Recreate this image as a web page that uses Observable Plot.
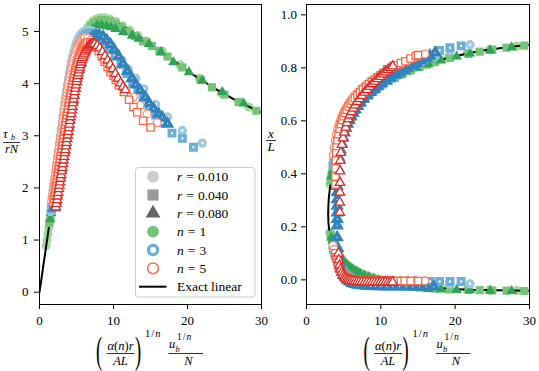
<!DOCTYPE html>
<html><head><meta charset="utf-8">
<script src="https://cdn.jsdelivr.net/npm/d3@7"></script>
<script src="https://cdn.jsdelivr.net/npm/@observablehq/plot@0.6"></script>
<style>
html,body{margin:0;padding:0;background:#fff;}
#wrap{position:relative;width:539px;height:371px;overflow:hidden;font-family:"Liberation Serif","DejaVu Serif",serif;}
#wrap > svg{position:absolute;top:0;}
#wrap svg text{font-family:"Liberation Serif","DejaVu Serif",serif !important;}
</style></head><body><div id="wrap"></div>
<script>
// ---------------- data ----------------
const xTicks = [0, 10, 20, 30];
const tauTicks = [0, 1, 2, 3, 4, 5];
const xLTicks = [0, 0.2, 0.4, 0.6, 0.8, 1.0];
const rValues = ["0.010", "0.040", "0.080"];
const nValues = [1, 3, 5];

// exact linear solution
const exact_tau = [[0,0],[1,0.98],[2,1.95],[3,2.9],[3.5,3.35],[4,3.78],[4.5,4.15],[5,4.48],[5.5,4.75],[6,4.95],[6.5,5.08],[7,5.17],[7.5,5.23],[8,5.26],[8.5,5.27],[9,5.26],[10,5.21],[11,5.13],[12,5.04],[13,4.95],[14,4.86],[15,4.76],[16,4.66],[17,4.56],[18,4.45],[19,4.35],[20,4.24],[22,4.06],[24,3.88],[26,3.72],[28,3.58],[30,3.45]];
const exact_xL_up = [[2.92,0.25],[2.95,0.285],[3.02,0.315],[3.15,0.345],[3.3,0.37],[3.45,0.395],[3.6,0.418],[3.8,0.445],[4.05,0.478],[4.5,0.518],[5.0,0.56],[5.5,0.592],[6.2,0.627],[7,0.66],[8,0.69],[9,0.715],[10,0.736],[11,0.753],[12,0.768],[13,0.781],[14.5,0.799],[16,0.813],[18,0.83],[20,0.844],[22,0.856],[24,0.866],[26,0.874],[28,0.881],[30,0.887]];
const exact_xL_low = [[2.92,0.25],[2.95,0.215],[3.05,0.19],[3.2,0.172],[3.4,0.155],[3.6,0.14],[3.9,0.117],[4.2,0.098],[4.7,0.075],[5.27,0.058],[5.94,0.044],[6.85,0.029],[7.7,0.019],[8.8,0.008],[9.5,0.002],[10.3,-0.004],[11.2,-0.01],[12.2,-0.016],[13.3,-0.021],[14.5,-0.025],[15.8,-0.028],[17.2,-0.031],[18.7,-0.033],[20.3,-0.035],[22,-0.037],[23.8,-0.038],[25.7,-0.039],[27.7,-0.04],[30,-0.041]];

// left panel: [abscissa, tau_b/(rN)]
const tau_n1_r010 = [[0.9,0.89],[1.02,1.0],[1.14,1.12],[1.26,1.24],[1.38,1.36],[1.5,1.47],[1.65,1.61],[1.8,1.76],[1.95,1.9],[2.1,2.05],[2.25,2.19],[2.4,2.33],[2.55,2.48],[2.7,2.62],[2.85,2.76],[3.0,2.9],[3.15,3.04],[3.3,3.17],[3.45,3.31],[3.6,3.44],[3.75,3.57],[3.9,3.7],[4.05,3.82],[4.2,3.93],[4.36,4.05],[4.53,4.17],[4.7,4.29],[4.88,4.4],[5.07,4.52],[5.27,4.63],[5.48,4.74],[5.7,4.84],[5.94,4.93],[6.2,5.0],[6.5,5.08],[6.85,5.15],[7.25,5.2],[7.7,5.24],[8.2,5.26],[8.8,5.26],[9.5,5.24],[10.3,5.19],[11.2,5.11],[12.2,5.02],[13.3,4.92],[14.5,4.81],[16.6,4.62],[19.0,4.36],[21.6,4.1],[24.6,3.82],[28.3,3.55]];
const tau_n1_r040 = [[1.35,1.33],[1.48,1.45],[1.62,1.58],[1.76,1.71],[1.9,1.84],[2.05,1.98],[2.2,2.12],[2.35,2.26],[2.5,2.4],[2.65,2.54],[2.8,2.68],[2.95,2.82],[3.1,2.96],[3.25,3.09],[3.4,3.22],[3.55,3.35],[3.7,3.48],[3.85,3.6],[4.0,3.72],[4.16,3.84],[4.33,3.96],[4.5,4.08],[4.68,4.2],[4.87,4.32],[5.07,4.44],[5.28,4.55],[5.5,4.66],[5.74,4.76],[6.0,4.86],[6.3,4.95],[6.62,5.03],[6.98,5.1],[7.38,5.16],[7.82,5.2],[8.3,5.22],[8.85,5.22],[9.5,5.2],[10.2,5.15],[11.0,5.08],[11.9,5.0],[12.9,4.91],[14.0,4.81],[15.2,4.72],[16.2,4.63],[17.3,4.52],[19.3,4.31],[21.8,4.07],[23.3,3.93],[25.0,3.79],[26.9,3.65],[29.3,3.48]];
const tau_n1_r080 = [[1.45,1.4],[1.58,1.52],[1.72,1.65],[1.86,1.78],[2.0,1.91],[2.15,2.04],[2.3,2.17],[2.45,2.3],[2.6,2.43],[2.75,2.56],[2.9,2.69],[3.05,2.82],[3.2,2.95],[3.35,3.08],[3.5,3.2],[3.65,3.32],[3.8,3.44],[3.96,3.56],[4.12,3.68],[4.29,3.8],[4.46,3.92],[4.64,4.04],[4.83,4.16],[5.03,4.28],[5.24,4.4],[5.46,4.51],[5.7,4.62],[5.95,4.72],[6.22,4.81],[6.52,4.9],[6.85,4.98],[7.2,5.05],[7.8,5.12],[8.4,5.12],[9.05,5.1],[9.65,5.08],[10.27,5.05],[11.3,4.99],[12.5,4.92],[13.4,4.86],[14.8,4.76],[16.4,4.6],[18.1,4.41],[20.2,4.22],[22.0,4.06],[24.7,3.84],[27.6,3.62]];
const tau_n3_r010 = [[1.5,1.55],[1.62,1.68],[1.74,1.81],[1.86,1.94],[1.98,2.07],[2.1,2.2],[2.22,2.33],[2.34,2.47],[2.46,2.6],[2.58,2.73],[2.7,2.86],[2.82,2.99],[2.94,3.12],[3.06,3.25],[3.18,3.38],[3.3,3.51],[3.42,3.63],[3.54,3.75],[3.66,3.87],[3.78,3.98],[3.9,4.09],[4.03,4.2],[4.17,4.31],[4.32,4.42],[4.48,4.52],[4.65,4.62],[4.83,4.71],[5.02,4.79],[5.22,4.86],[5.44,4.92],[5.67,4.96],[5.92,4.99],[6.2,5.01],[6.5,5.02],[6.85,5.02],[7.2,5.0],[7.6,4.97],[8.1,4.92],[8.8,4.84],[9.5,4.74],[10.3,4.6],[11.1,4.45],[12.0,4.28],[13.0,4.1],[14.1,3.9],[15.7,3.6],[17.3,3.36],[19.3,3.1],[22.0,2.86]];
const tau_n3_r040 = [[1.65,1.6],[1.78,1.73],[1.91,1.86],[2.04,1.99],[2.17,2.12],[2.3,2.25],[2.43,2.38],[2.56,2.51],[2.69,2.64],[2.82,2.77],[2.95,2.9],[3.08,3.03],[3.21,3.16],[3.34,3.29],[3.47,3.42],[3.6,3.54],[3.73,3.66],[3.86,3.78],[4.0,3.9],[4.15,4.02],[4.3,4.14],[4.46,4.26],[4.63,4.38],[4.81,4.49],[5.0,4.59],[5.2,4.68],[5.42,4.76],[5.66,4.83],[5.92,4.89],[6.2,4.93],[6.5,4.96],[6.85,4.97],[7.25,4.96],[7.7,4.93],[8.2,4.88],[8.8,4.8],[9.5,4.68],[10.2,4.54],[11.0,4.37],[11.8,4.19],[12.6,4.02],[13.3,3.88],[14.0,3.73],[14.8,3.56],[15.7,3.4],[16.6,3.25],[17.9,3.05],[19.3,2.95],[20.8,2.78]];
const tau_n3_r080 = [[2.0,1.62],[2.14,1.75],[2.28,1.88],[2.42,2.0],[2.56,2.12],[2.7,2.24],[2.84,2.36],[2.98,2.48],[3.12,2.6],[3.26,2.72],[3.4,2.84],[3.54,2.96],[3.68,3.08],[3.82,3.2],[3.96,3.32],[4.1,3.44],[4.25,3.56],[4.4,3.68],[4.56,3.8],[4.72,3.92],[4.9,4.04],[5.08,4.16],[5.28,4.28],[5.5,4.4],[5.73,4.51],[5.98,4.61],[6.25,4.7],[6.55,4.78],[6.88,4.85],[7.25,4.9],[7.65,4.93],[8.1,4.93],[8.6,4.9],[9.1,4.83],[9.6,4.75],[10.1,4.65],[10.7,4.52],[11.3,4.38],[11.9,4.24],[12.5,4.1],[13.0,3.98],[13.6,3.87],[14.3,3.74],[14.8,3.62],[15.4,3.52],[16.1,3.42],[16.6,3.35],[17.3,3.23]];
const tau_n5_r010 = [[1.65,1.75],[1.72,1.82],[1.78,1.88],[1.85,1.95],[1.91,2.01],[1.98,2.08],[2.04,2.14],[2.11,2.21],[2.17,2.27],[2.24,2.34],[2.3,2.4],[2.37,2.47],[2.43,2.53],[2.5,2.6],[2.56,2.66],[2.63,2.73],[2.69,2.79],[2.76,2.86],[2.82,2.92],[2.89,2.99],[2.95,3.05],[3.02,3.12],[3.08,3.18],[3.15,3.25],[3.21,3.31],[3.28,3.38],[3.34,3.44],[3.41,3.51],[3.47,3.57],[3.54,3.64],[3.6,3.7],[3.67,3.76],[3.73,3.82],[3.8,3.88],[3.87,3.94],[3.94,4.0],[4.02,4.06],[4.1,4.12],[4.18,4.18],[4.26,4.24],[4.35,4.3],[4.44,4.36],[4.53,4.41],[4.62,4.47],[4.72,4.52],[4.82,4.57],[4.92,4.62],[5.02,4.67],[5.13,4.71],[5.24,4.75],[5.36,4.78],[5.48,4.81],[5.6,4.83],[5.73,4.85],[5.86,4.87],[6.0,4.88],[6.15,4.88],[6.5,4.87],[6.9,4.83],[7.4,4.76],[8.0,4.65],[8.6,4.52],[9.2,4.39],[9.8,4.25],[10.4,4.11],[11.0,3.99],[11.7,3.87],[12.7,3.74],[13.6,3.58],[14.55,3.42],[15.9,3.25]];
const tau_n5_r040 = [[1.9,1.72],[1.97,1.79],[2.04,1.85],[2.11,1.91],[2.18,1.98],[2.25,2.04],[2.32,2.11],[2.39,2.17],[2.46,2.24],[2.53,2.3],[2.6,2.37],[2.67,2.43],[2.74,2.5],[2.81,2.56],[2.88,2.62],[2.95,2.69],[3.02,2.75],[3.09,2.82],[3.16,2.88],[3.23,2.95],[3.3,3.01],[3.37,3.08],[3.44,3.14],[3.51,3.21],[3.58,3.27],[3.65,3.34],[3.72,3.4],[3.79,3.46],[3.86,3.52],[3.93,3.58],[4.0,3.64],[4.07,3.7],[4.15,3.76],[4.22,3.82],[4.3,3.88],[4.38,3.94],[4.46,4.0],[4.54,4.06],[4.63,4.12],[4.72,4.18],[4.81,4.24],[4.9,4.3],[5.0,4.35],[5.1,4.4],[5.2,4.45],[5.31,4.5],[5.42,4.55],[5.54,4.6],[5.66,4.64],[5.79,4.68],[5.92,4.71],[6.06,4.74],[6.2,4.76],[6.35,4.78],[6.5,4.79],[6.85,4.79],[7.2,4.76],[7.6,4.7],[8.0,4.62],[8.4,4.52],[8.8,4.42],[9.2,4.32],[9.6,4.22],[10.0,4.15],[10.3,4.07],[10.7,3.97],[11.4,3.84],[12.1,3.69],[12.7,3.55],[13.2,3.45],[14.0,3.29],[15.0,3.16]];
const tau_n5_r080 = [[2.2,1.63],[2.28,1.7],[2.36,1.77],[2.44,1.84],[2.52,1.91],[2.6,1.98],[2.68,2.05],[2.76,2.11],[2.84,2.18],[2.92,2.25],[3.0,2.32],[3.08,2.39],[3.16,2.46],[3.24,2.53],[3.32,2.6],[3.4,2.67],[3.48,2.73],[3.56,2.8],[3.64,2.87],[3.72,2.94],[3.8,3.01],[3.88,3.08],[3.96,3.15],[4.04,3.22],[4.12,3.29],[4.2,3.36],[4.28,3.42],[4.36,3.49],[4.44,3.56],[4.52,3.63],[4.6,3.7],[4.68,3.77],[4.76,3.84],[4.84,3.91],[4.92,3.97],[5.0,4.04],[5.08,4.09],[5.16,4.15],[5.25,4.2],[5.34,4.26],[5.43,4.31],[5.52,4.36],[5.62,4.41],[5.72,4.46],[5.82,4.5],[5.93,4.54],[6.04,4.58],[6.16,4.62],[6.28,4.65],[6.41,4.68],[6.54,4.7],[6.68,4.72],[6.82,4.74],[6.97,4.75],[7.12,4.76],[7.28,4.77],[7.45,4.76],[7.8,4.73],[8.15,4.68],[8.5,4.61],[8.85,4.53],[9.2,4.45],[9.55,4.37],[9.9,4.28],[10.25,4.19],[10.6,4.1],[10.95,4.01],[11.3,3.94],[11.6,3.88]];

// right panel: [abscissa, x/L], upper and lower branches
const up_n1_r010 = [[3.15,0.36],[3.3,0.385],[3.45,0.405],[3.6,0.425],[3.75,0.445],[3.9,0.463],[4.05,0.48],[4.2,0.495],[4.36,0.51],[4.53,0.525],[4.7,0.538],[4.88,0.551],[5.07,0.564],[5.27,0.577],[5.48,0.59],[5.7,0.602],[5.94,0.614],[6.2,0.627],[6.5,0.64],[6.85,0.654],[7.25,0.668],[7.7,0.682],[8.2,0.696],[8.8,0.711],[9.5,0.726],[10.3,0.741],[11.2,0.756],[12.2,0.77],[13.3,0.785],[14.5,0.799],[16.6,0.818],[19.0,0.838],[21.6,0.854],[24.6,0.868],[28.3,0.882]];
const low_n1_r010 = [[3.15,0.18],[3.3,0.165],[3.45,0.152],[3.6,0.14],[3.75,0.128],[3.9,0.117],[4.05,0.107],[4.2,0.098],[4.36,0.09],[4.53,0.082],[4.7,0.075],[4.88,0.069],[5.07,0.063],[5.27,0.058],[5.48,0.053],[5.7,0.048],[5.94,0.044],[6.2,0.039],[6.5,0.034],[6.85,0.029],[7.25,0.024],[7.7,0.019],[8.2,0.014],[8.8,0.008],[9.5,0.002],[10.3,-0.004],[11.2,-0.01],[12.2,-0.016],[13.3,-0.021],[14.5,-0.025],[16.6,-0.03],[19.0,-0.034],[21.6,-0.037],[24.6,-0.039],[28.3,-0.041]];
const up_n1_r040 = [[3.25,0.375],[3.4,0.395],[3.55,0.415],[3.7,0.435],[3.85,0.455],[4.0,0.472],[4.16,0.488],[4.33,0.504],[4.5,0.519],[4.68,0.534],[4.87,0.548],[5.07,0.562],[5.28,0.576],[5.5,0.589],[5.74,0.602],[6.0,0.615],[6.3,0.63],[6.62,0.644],[6.98,0.658],[7.38,0.671],[7.82,0.684],[8.3,0.697],[8.85,0.71],[9.5,0.724],[10.2,0.737],[11.0,0.75],[11.9,0.763],[12.9,0.777],[14.0,0.79],[15.2,0.803],[16.2,0.812],[17.3,0.822],[19.3,0.838],[21.8,0.853],[23.3,0.861],[25.0,0.869],[26.9,0.876],[29.3,0.884]];
const low_n1_r040 = [[3.25,0.17],[3.4,0.156],[3.55,0.144],[3.7,0.132],[3.85,0.12],[4.0,0.11],[4.16,0.1],[4.33,0.091],[4.5,0.083],[4.68,0.076],[4.87,0.069],[5.07,0.063],[5.28,0.057],[5.5,0.052],[5.74,0.047],[6.0,0.042],[6.3,0.037],[6.62,0.032],[6.98,0.027],[7.38,0.022],[7.82,0.017],[8.3,0.012],[8.85,0.007],[9.5,0.001],[10.2,-0.005],[11.0,-0.011],[11.9,-0.016],[12.9,-0.021],[14.0,-0.025],[15.2,-0.029],[16.2,-0.031],[17.3,-0.033],[19.3,-0.036],[21.8,-0.038],[23.3,-0.039],[25.0,-0.04],[26.9,-0.041],[29.3,-0.042]];
const up_n1_r080 = [[3.35,0.39],[3.5,0.41],[3.65,0.43],[3.8,0.448],[3.96,0.466],[4.12,0.483],[4.29,0.5],[4.46,0.515],[4.64,0.53],[4.83,0.545],[5.03,0.559],[5.24,0.573],[5.46,0.586],[5.7,0.599],[5.95,0.612],[6.22,0.625],[6.52,0.638],[6.85,0.652],[7.2,0.665],[7.8,0.683],[8.4,0.699],[9.05,0.714],[9.65,0.727],[10.27,0.739],[11.3,0.756],[12.5,0.772],[13.4,0.786],[14.8,0.8],[16.4,0.814],[18.1,0.828],[20.2,0.843],[22.0,0.854],[24.7,0.866],[27.6,0.877]];
const low_n1_r080 = [[3.35,0.16],[3.5,0.148],[3.65,0.136],[3.8,0.125],[3.96,0.114],[4.12,0.104],[4.29,0.095],[4.46,0.087],[4.64,0.079],[4.83,0.072],[5.03,0.065],[5.24,0.059],[5.46,0.053],[5.7,0.048],[5.95,0.043],[6.22,0.038],[6.52,0.033],[6.85,0.028],[7.2,0.023],[7.8,0.016],[8.4,0.01],[9.05,0.004],[9.65,-0.002],[10.27,-0.007],[11.3,-0.014],[12.5,-0.021],[13.4,-0.025],[14.8,-0.03],[16.4,-0.034],[18.1,-0.036],[20.2,-0.038],[22.0,-0.039],[24.7,-0.041],[27.6,-0.042]];
const up_n3_r010 = [[3.54,0.44],[3.66,0.46],[3.78,0.478],[3.9,0.494],[4.03,0.51],[4.17,0.525],[4.32,0.54],[4.48,0.554],[4.65,0.567],[4.83,0.58],[5.02,0.592],[5.22,0.604],[5.44,0.615],[5.67,0.626],[5.92,0.637],[6.2,0.648],[6.5,0.66],[6.85,0.672],[7.2,0.683],[7.6,0.695],[8.1,0.708],[8.8,0.724],[9.5,0.738],[10.3,0.752],[11.1,0.765],[12.0,0.778],[13.0,0.792],[14.1,0.806],[15.7,0.825],[17.3,0.845],[19.3,0.866],[22.0,0.887]];
const low_n3_r010 = [[3.54,0.12],[3.66,0.108],[3.78,0.097],[3.9,0.087],[4.03,0.077],[4.17,0.067],[4.32,0.058],[4.48,0.049],[4.65,0.041],[4.83,0.033],[5.02,0.026],[5.22,0.02],[5.44,0.014],[5.67,0.009],[5.92,0.004],[6.2,0.0],[6.5,-0.003],[6.85,-0.006],[7.2,-0.008],[7.6,-0.01],[8.1,-0.012],[8.8,-0.013],[9.5,-0.014],[10.3,-0.015],[11.1,-0.015],[12.0,-0.015],[13.0,-0.015],[14.1,-0.015],[15.7,-0.015],[17.3,-0.015],[19.3,-0.015],[22.0,-0.015]];
const up_n3_r040 = [[3.6,0.43],[3.73,0.452],[3.86,0.472],[4.0,0.49],[4.15,0.507],[4.3,0.522],[4.46,0.537],[4.63,0.551],[4.81,0.564],[5.0,0.577],[5.2,0.589],[5.42,0.601],[5.66,0.613],[5.92,0.625],[6.2,0.637],[6.5,0.649],[6.85,0.661],[7.25,0.674],[7.7,0.687],[8.2,0.7],[8.8,0.715],[9.5,0.73],[10.2,0.744],[11.0,0.758],[11.8,0.771],[12.6,0.784],[13.3,0.795],[14.0,0.806],[14.8,0.818],[15.7,0.83],[16.6,0.842],[17.9,0.866],[19.3,0.876],[20.8,0.883]];
const low_n3_r040 = [[3.6,0.115],[3.73,0.103],[3.86,0.092],[4.0,0.082],[4.15,0.072],[4.3,0.062],[4.46,0.053],[4.63,0.044],[4.81,0.036],[5.0,0.029],[5.2,0.022],[5.42,0.016],[5.66,0.011],[5.92,0.006],[6.2,0.002],[6.5,-0.001],[6.85,-0.004],[7.25,-0.006],[7.7,-0.008],[8.2,-0.009],[8.8,-0.009],[9.5,-0.009],[10.2,-0.009],[11.0,-0.008],[11.8,-0.008],[12.6,-0.008],[13.3,-0.007],[14.0,-0.007],[14.8,-0.007],[15.7,-0.007],[16.6,-0.006],[17.9,-0.006],[19.3,-0.006],[20.8,-0.006]];
const up_n3_r080 = [[4.13,0.16],[4.13,0.205],[4.13,0.229],[4.13,0.254],[4.13,0.279],[4.13,0.304],[4.13,0.33],[4.13,0.354],[4.13,0.38],[4.25,0.42],[4.4,0.46],[4.56,0.49],[4.72,0.515],[4.9,0.537],[5.08,0.556],[5.28,0.573],[5.5,0.589],[5.73,0.603],[5.98,0.617],[6.25,0.63],[6.55,0.643],[6.88,0.656],[7.25,0.669],[7.65,0.682],[8.1,0.695],[8.6,0.708],[9.1,0.72],[9.6,0.731],[10.1,0.741],[10.7,0.752],[11.3,0.763],[11.9,0.773],[12.5,0.783],[13.0,0.791],[13.6,0.8],[14.3,0.81],[14.8,0.818],[15.4,0.827],[16.1,0.838],[16.6,0.846],[17.3,0.857]];
const low_n3_r080 = [[4.2,0.12],[4.3,0.09],[4.45,0.065],[4.6,0.045],[4.8,0.03],[5.0,0.018],[5.25,0.008],[5.5,0.0],[5.8,-0.007],[6.1,-0.012],[6.5,-0.016],[6.9,-0.019],[7.4,-0.021],[8.0,-0.023],[8.6,-0.024],[9.3,-0.025],[10.0,-0.025],[10.8,-0.026],[11.6,-0.026],[12.5,-0.026],[13.4,-0.026],[14.3,-0.026],[15.2,-0.026],[16.1,-0.026],[17.1,-0.026]];
const up_n5_r010 = [[3.6,0.47],[3.73,0.5],[3.87,0.525],[4.02,0.548],[4.18,0.568],[4.35,0.585],[4.53,0.6],[4.72,0.614],[4.92,0.627],[5.13,0.639],[5.36,0.651],[5.6,0.662],[5.86,0.673],[6.15,0.684],[6.5,0.696],[6.9,0.708],[7.4,0.722],[8.0,0.737],[8.6,0.75],[9.2,0.762],[9.8,0.773],[10.4,0.783],[11.0,0.792],[11.7,0.802],[12.7,0.815],[13.6,0.827],[14.55,0.84],[15.9,0.852]];
const low_n5_r010 = [[3.6,0.13],[3.73,0.115],[3.87,0.1],[4.02,0.085],[4.18,0.07],[4.35,0.056],[4.53,0.044],[4.72,0.034],[4.92,0.026],[5.13,0.019],[5.36,0.013],[5.6,0.009],[5.86,0.006],[6.15,0.003],[6.5,0.001],[6.9,0.0],[7.4,-0.001],[8.0,-0.002],[8.6,-0.002],[9.2,-0.002],[9.8,-0.003],[10.4,-0.003],[11.0,-0.003],[11.7,-0.003],[12.7,-0.003],[13.6,-0.003],[14.55,-0.003],[15.9,-0.003]];
const up_n5_r040 = [[3.9,0.36],[3.9,0.39],[3.9,0.42],[3.95,0.45],[4.0,0.48],[4.07,0.505],[4.15,0.527],[4.3,0.55],[4.46,0.57],[4.63,0.588],[4.81,0.603],[5.0,0.617],[5.2,0.63],[5.42,0.642],[5.66,0.654],[5.92,0.665],[6.2,0.676],[6.5,0.686],[6.85,0.697],[7.2,0.707],[7.6,0.718],[8.0,0.728],[8.4,0.738],[8.8,0.747],[9.2,0.756],[9.6,0.764],[10.0,0.772],[10.3,0.78],[10.86,0.795],[11.4,0.8],[12.1,0.81],[12.7,0.818],[13.3,0.825],[14.0,0.835],[14.7,0.845],[15.0,0.848]];
const low_n5_r040 = [[3.9,0.1],[4.0,0.085],[4.15,0.068],[4.3,0.053],[4.46,0.041],[4.63,0.031],[4.81,0.023],[5.0,0.017],[5.2,0.012],[5.42,0.008],[5.66,0.005],[5.92,0.003],[6.2,0.001],[6.5,0.0],[6.85,-0.001],[7.2,-0.001],[7.6,-0.002],[8.0,-0.002],[8.4,-0.002],[8.8,-0.003],[9.2,-0.003],[9.6,-0.003],[10.0,-0.003],[10.3,-0.003],[10.7,-0.003],[11.4,-0.003],[12.1,-0.004],[12.7,-0.004],[13.2,-0.004],[14.0,-0.004],[15.0,-0.004]];
const up_n5_r080 = [[4.48,0.254],[4.48,0.292],[4.5,0.33],[4.5,0.367],[4.52,0.41],[4.55,0.45],[4.62,0.48],[4.76,0.51],[4.92,0.535],[5.08,0.556],[5.25,0.575],[5.43,0.592],[5.62,0.607],[5.82,0.621],[6.04,0.634],[6.28,0.647],[6.54,0.659],[6.82,0.671],[7.12,0.683],[7.45,0.695],[7.8,0.707],[8.15,0.718],[8.5,0.729],[8.85,0.739],[9.2,0.749],[9.55,0.758],[9.9,0.767],[10.25,0.776],[10.6,0.784],[10.95,0.792],[11.3,0.8],[11.6,0.806]];
const low_n5_r080 = [[4.3,0.1],[4.35,0.075],[4.45,0.055],[4.6,0.04],[4.76,0.028],[4.92,0.019],[5.08,0.012],[5.25,0.007],[5.43,0.003],[5.62,0.0],[5.82,-0.002],[6.04,-0.004],[6.28,-0.005],[6.54,-0.006],[6.82,-0.007],[7.12,-0.008],[7.45,-0.008],[7.8,-0.009],[8.15,-0.009],[8.5,-0.009],[8.85,-0.009],[9.2,-0.009],[9.55,-0.009],[9.9,-0.009],[10.25,-0.009],[10.6,-0.009],[10.95,-0.009],[11.3,-0.009],[11.6,-0.009]];

// ---------------- styling ----------------
const FONT = "'Liberation Serif', 'DejaVu Serif', serif";
const palette = {
  1: ["#a1d99b", "#74c476", "#31a354"],
  3: ["#9ecae1", "#6baed6", "#3182bd"],
  5: ["#fc9272", "#fb6a4a", "#de2d26"]
};
const symbols = ["circle", "square", "triangle"];
const markerStyle = {
  1: {fill: true, sw: 0, r: {circle: 4.6, square: 4.6, triangle: 3.9}},
  3: {fill: false, sw: 3.4, r: {circle: 3.0, square: 3.1, triangle: 2.8}},
  5: {fill: false, sw: 1.3, r: {circle: 3.9, square: 4.1, triangle: 3.5}}
};
const series = [
  {n: 1, i: 0, left: tau_n1_r010, right: up_n1_r010.concat(low_n1_r010)},
  {n: 1, i: 1, left: tau_n1_r040, right: up_n1_r040.concat(low_n1_r040)},
  {n: 1, i: 2, left: tau_n1_r080, right: up_n1_r080.concat(low_n1_r080)},
  {n: 3, i: 0, left: tau_n3_r010, right: up_n3_r010.concat(low_n3_r010)},
  {n: 3, i: 1, left: tau_n3_r040, right: up_n3_r040.concat(low_n3_r040)},
  {n: 3, i: 2, left: tau_n3_r080, right: up_n3_r080.concat(low_n3_r080)},
  {n: 5, i: 0, left: tau_n5_r010, right: up_n5_r010.concat(low_n5_r010)},
  {n: 5, i: 1, left: tau_n5_r040, right: up_n5_r040.concat(low_n5_r040)},
  {n: 5, i: 2, left: tau_n5_r080, right: up_n5_r080.concat(low_n5_r080)}
];
function dotMark(data, s) {
  const st = markerStyle[s.n], col = palette[s.n][s.i], sym = symbols[s.i];
  return Plot.dot(data, {
    x: d => d[0], y: d => d[1], symbol: sym, r: st.r[sym],
    fill: st.fill ? col : "white",
    stroke: st.fill ? "none" : col,
    strokeWidth: st.sw, clip: true
  });
}
const lineMark = (data) => Plot.line(data, {x: d => d[0], y: d => d[1], stroke: "black", strokeWidth: 2, clip: true});
const font = {fontFamily: FONT, fontSize: "13px", color: "black", background: "transparent", overflow: "visible"};

const leftPlot = Plot.plot({
  width: 270, height: 330,
  marginLeft: 39, marginRight: 9, marginTop: 4, marginBottom: 26,
  x: {domain: [0, 30]},
  y: {domain: [-0.236, 5.518]},
  style: font,
  marks: [
    dotMark(series[0].left, series[0]),
    lineMark(exact_tau),
    ...series.slice(1).map(s => dotMark(s.left, s)),
    Plot.frame({stroke: "black", strokeWidth: 1}),
    Plot.axisX({ticks: xTicks, tickSize: 5, tickPadding: 6, tickFormat: d3.format("d"), label: null, fontFamily: FONT, fontSize: 13}),
    Plot.axisY({ticks: tauTicks, tickSize: 5, tickPadding: 6, tickFormat: d3.format("d"), label: null, fontFamily: FONT, fontSize: 13})
  ]
});
const rightPlot = Plot.plot({
  width: 269, height: 330,
  marginLeft: 36, marginRight: 10, marginTop: 4, marginBottom: 26,
  x: {domain: [0, 30]},
  y: {domain: [-0.093, 1.039]},
  style: font,
  marks: [
    dotMark(series[0].right, series[0]),
    lineMark(exact_xL_up),
    lineMark(exact_xL_low),
    ...series.slice(1).map(s => dotMark(s.right, s)),
    Plot.frame({stroke: "black", strokeWidth: 1}),
    Plot.axisX({ticks: xTicks, tickSize: 5, tickPadding: 6, tickFormat: d3.format("d"), label: null, fontFamily: FONT, fontSize: 13}),
    Plot.axisY({ticks: xLTicks, tickSize: 5, tickPadding: 4.5, tickFormat: d3.format(".1f"), label: null, fontFamily: FONT, fontSize: 13})
  ]
});
const wrap = document.getElementById("wrap");
leftPlot.style.left = "0px"; wrap.appendChild(leftPlot);
rightPlot.style.left = "270px"; wrap.appendChild(rightPlot);

// ---------------- overlay: labels and legend ----------------
const ov = d3.select(wrap).append("svg").attr("width", 539).attr("height", 371)
  .style("left", "0px").style("font-family", FONT);

function txt(x, y, size, parts, anchor) {
  const t = ov.append("text").attr("x", x).attr("y", y).attr("font-size", size)
    .attr("text-anchor", anchor || "start").attr("fill", "black").attr("font-family", FONT);
  parts.forEach(p => {
    const ts = t.append("tspan").text(p[0]);
    if (p[1]) ts.attr("font-style", "italic");
    if (p[2]) ts.attr("dx", p[2]);
  });
  return t;
}
function bar(x1, x2, y) {
  ov.append("line").attr("x1", x1).attr("x2", x2).attr("y1", y).attr("y2", y)
    .attr("stroke", "black").attr("stroke-width", 0.8);
}
function paren(x, y, ch) {
  ov.append("text").attr("transform", `translate(${x},${y}) scale(0.5,1)`)
    .attr("font-size", 37).attr("font-weight", 300).attr("fill", "black").attr("font-family", FONT).text(ch);
}
function xLabel(cx) {
  paren(cx - 54, 363, "(");
  txt(cx - 29.5, 350, 12.5, [["α", true], ["("], ["n", true], [")"], ["r", true]], "middle");
  bar(cx - 43.5, cx - 15.5, 353.5);
  txt(cx - 29.5, 364.5, 12.5, [["AL", true]], "middle");
  paren(cx - 15, 363, ")");
  txt(cx - 5, 337, 10.5, [["1"], ["/", false, 1], ["n", true, 1]]);
  txt(cx + 19, 348, 12.5, [["u", true]]);
  txt(cx + 25.5, 352, 8.5, [["b", true]]);
  txt(cx + 27, 340, 9.5, [["1"], ["/", false, 1], ["n", true, 1]]);
  bar(cx + 18.5, cx + 53, 353.5);
  txt(cx + 38.5, 364.5, 12.5, [["N", true]], "middle");
}
xLabel(150);
xLabel(417.5);

// y labels
txt(3, 137.5, 13, [["τ", true]]);
txt(11, 139.5, 8, [["b", true]]);
bar(3, 20, 142.5);
txt(11.5, 153, 12.5, [["rN", true]], "middle");
txt(271, 137.5, 13, [["x", true]], "middle");
bar(266, 276, 140.5);
txt(271, 151, 13, [["L", true]], "middle");

// legend
ov.append("rect").attr("x", 135.5).attr("y", 167.5).attr("width", 119.5).attr("height", 129.5)
  .attr("rx", 3).attr("fill", "white").attr("fill-opacity", 0.8).attr("stroke", "#cccccc").attr("stroke-width", 1);
const rowY = [176.7, 195, 213.3, 231.7, 250, 268.3, 286.7];
const mx = 153, tx = 177;
const gray = ["#cccccc", "#999999", "#666666"];
const symType = [d3.symbolCircle, d3.symbolSquare, d3.symbolTriangle];
const symSize = [110, 125, 95];
rValues.forEach((rv, k) => {
  ov.append("path").attr("d", d3.symbol(symType[k], symSize[k])()).attr("transform", `translate(${mx},${rowY[k]})`).attr("fill", gray[k]);
  txt(tx, rowY[k] + 4.5, 13.5, [["r", true], ["=", false, 4], [rv, false, 4]]);
});
const nStyle = [
  {r: 5.9, fill: "#74c476", stroke: "none", sw: 0},
  {r: 4.6, fill: "white", stroke: "#6baed6", sw: 3.2},
  {r: 5.4, fill: "white", stroke: "#fb6a4a", sw: 1.5}
];
nValues.forEach((nv, k) => {
  const s = nStyle[k];
  ov.append("circle").attr("cx", mx).attr("cy", rowY[3 + k]).attr("r", s.r)
    .attr("fill", s.fill).attr("stroke", s.stroke).attr("stroke-width", s.sw);
  txt(tx, rowY[3 + k] + 4.5, 13.5, [["n", true], ["=", false, 4], [String(nv), false, 4]]);
});
ov.append("line").attr("x1", 139).attr("x2", 166.5).attr("y1", rowY[6]).attr("y2", rowY[6])
  .attr("stroke", "black").attr("stroke-width", 2);
txt(tx, rowY[6] + 4.5, 13.5, [["Exact linear"]]);
</script></body></html>
